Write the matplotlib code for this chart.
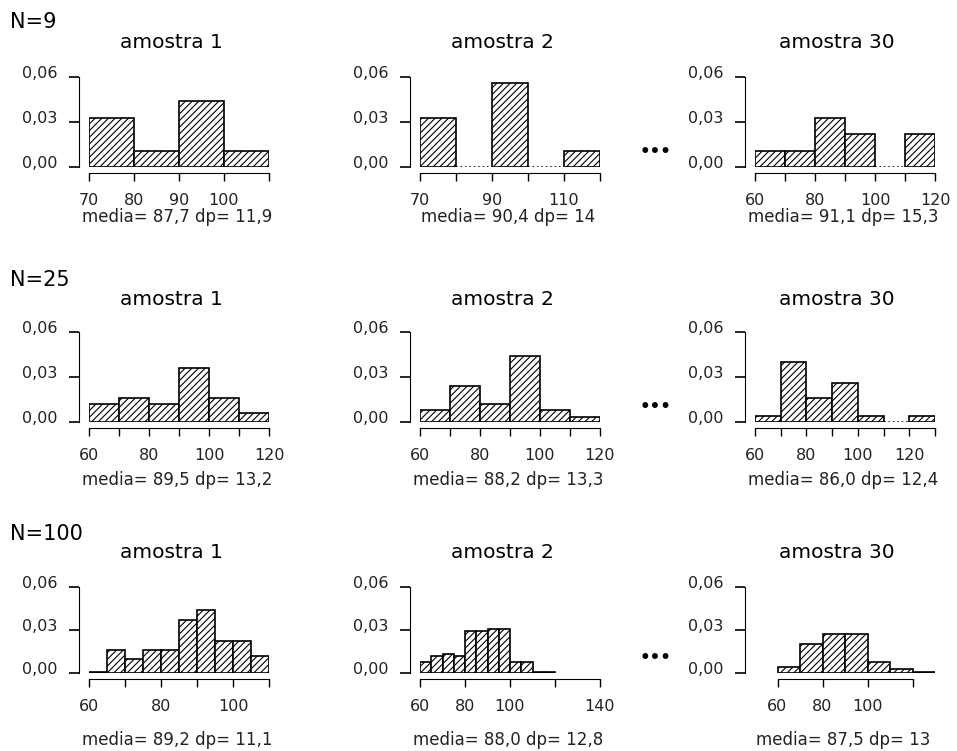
import numpy as np
import matplotlib.pyplot as plt
from matplotlib.transforms import ScaledTranslation

plt.rcParams['hatch.linewidth'] = 0.8
plt.rcParams['font.family'] = 'DejaVu Sans'

# row labels and panel titles
row_labels = ["N=9", "N=25", "N=100"]
titles = ["amostra 1", "amostra 2", "amostra 30"]

# histogram heights (density), bin start and bin width per panel
n9_a1 = [0.033, 0.011, 0.044, 0.011]
n9_a2 = [0.033, 0.0, 0.056, 0.0, 0.011]
n9_a30 = [0.011, 0.011, 0.033, 0.022, 0.0, 0.022]
n25_a1 = [0.012, 0.016, 0.012, 0.036, 0.016, 0.006]
n25_a2 = [0.008, 0.024, 0.012, 0.044, 0.008, 0.003]
n25_a30 = [0.004, 0.040, 0.016, 0.026, 0.004, 0.0, 0.004]
n100_a1 = [0.001, 0.016, 0.010, 0.016, 0.016, 0.037, 0.044, 0.022, 0.022, 0.012]
n100_a2 = [0.008, 0.012, 0.013, 0.012, 0.029, 0.029, 0.031, 0.031, 0.008, 0.008, 0.001, 0.001]
n100_a30 = [0.004, 0.020, 0.027, 0.027, 0.008, 0.003, 0.001]

heights = [[n9_a1, n9_a2, n9_a30],
           [n25_a1, n25_a2, n25_a30],
           [n100_a1, n100_a2, n100_a30]]
bin_start = [[70, 70, 60], [60, 60, 60], [60, 60, 60]]
bin_width = [[10, 10, 10], [10, 10, 10], [5, 5, 10]]
xlims = [[(70, 110), (70, 120), (60, 120)],
         [(60, 120), (60, 120), (60, 130)],
         [(60, 110), (60, 140), (50, 130)]]

xticks = [[[70, 80, 90, 100, 110], [70, 80, 90, 100, 110, 120], [60, 70, 80, 90, 100, 110, 120]],
          [[60, 70, 80, 90, 100, 110, 120], [60, 70, 80, 90, 100, 110, 120], [60, 70, 80, 90, 100, 110, 120, 130]],
          [[60, 70, 80, 90, 100, 110], [60, 80, 100, 120, 140], [60, 80, 100, 120]]]
xticklabels = [[['70', '80', '90', '100', ''], ['70', '', '90', '', '110', ''], ['60', '', '80', '', '100', '', '120']],
               [['60', '', '80', '', '100', '', '120'], ['60', '', '80', '', '100', '', '120'], ['60', '', '80', '', '100', '', '120', '']],
               [['60', '', '80', '', '100', ''], ['60', '80', '100', '', '140'], ['60', '80', '100', '']]]

captions = [["media= 87,7 dp= 11,9", "media= 90,4 dp= 14", "media= 91,1 dp= 15,3"],
            ["media= 89,5 dp= 13,2", "media= 88,2 dp= 13,3", "media= 86,0 dp= 12,4"],
            ["media= 89,2 dp= 11,1", "media= 88,0 dp= 12,8", "media= 87,5 dp= 13"]]

yticks = [0, 0.03, 0.06]
yticklabels = ["0,00", "0,03", "0,06"]

W, H = 957, 751
fig = plt.figure(figsize=(W / 100, H / 100), dpi=100)

col_left = [89, 420, 755]
plot_w = 180
baseline = [167, 422, 673]
plot_h = [90, 90, 86]
title_y = [42, 299, 553]
label_y = [22, 280, 534]
caption_y = [217, 480, 740]

for r in range(3):
    fig.text(10 / W, 1 - label_y[r] / H, row_labels[r], fontsize=15, va='center', ha='left')
    fig.text(656 / W, 1 - (baseline[r] - 15) / H, "•••", fontsize=12, va='center', ha='center',
             fontweight='bold')
    for c in range(3):
        ax = fig.add_axes([col_left[c] / W, 1 - baseline[r] / H, plot_w / W, plot_h[r] / H])
        h = heights[r][c]
        bw = bin_width[r][c]
        edges = bin_start[r][c] + bw * np.arange(len(h))
        for x0, hv in zip(edges, h):
            if hv == 0:
                ax.hlines(0, x0, x0 + bw, colors='black', linestyles=':', lw=1.2)
            else:
                ax.bar(x0, hv, width=bw, align='edge', facecolor='white', edgecolor='black',
                       hatch='/////', lw=1.2)
        ax.set_xlim(*xlims[r][c])
        ax.set_ylim(0, 0.06)
        ax.patch.set_alpha(0)
        for s in ['top', 'right']:
            ax.spines[s].set_visible(False)
        ax.spines['left'].set_position(('outward', 7))
        ax.spines['bottom'].set_position(('outward', 4))
        ax.spines['left'].set_bounds(0, 0.06)
        ax.spines['bottom'].set_bounds(xticks[r][c][0], xticks[r][c][-1])
        ax.set_yticks(yticks)
        ax.set_yticklabels(yticklabels, fontsize=11.5, color='#222222')
        ax.set_xticks(xticks[r][c])
        ax.set_xticklabels(xticklabels[r][c], fontsize=11.5, color='#222222')
        ax.tick_params(axis='y', length=7, width=1.2, pad=9)
        ax.tick_params(axis='x', length=6, width=1.0, pad=9)
        off = ScaledTranslation(0, 5 / 100, fig.dpi_scale_trans)
        for lab in ax.get_yticklabels():
            lab.set_transform(lab.get_transform() + off)
        cx = (col_left[c] + plot_w / 2 - 8) / W
        fig.text(cx, 1 - title_y[r] / H, titles[c], fontsize=14.5, ha='center', va='center')
        fig.text((col_left[c] + plot_w / 2 - 2) / W, 1 - caption_y[r] / H, captions[r][c],
                 fontsize=12, ha='center', va='center', color='#222222')

fig.savefig("out.png", dpi=100)
